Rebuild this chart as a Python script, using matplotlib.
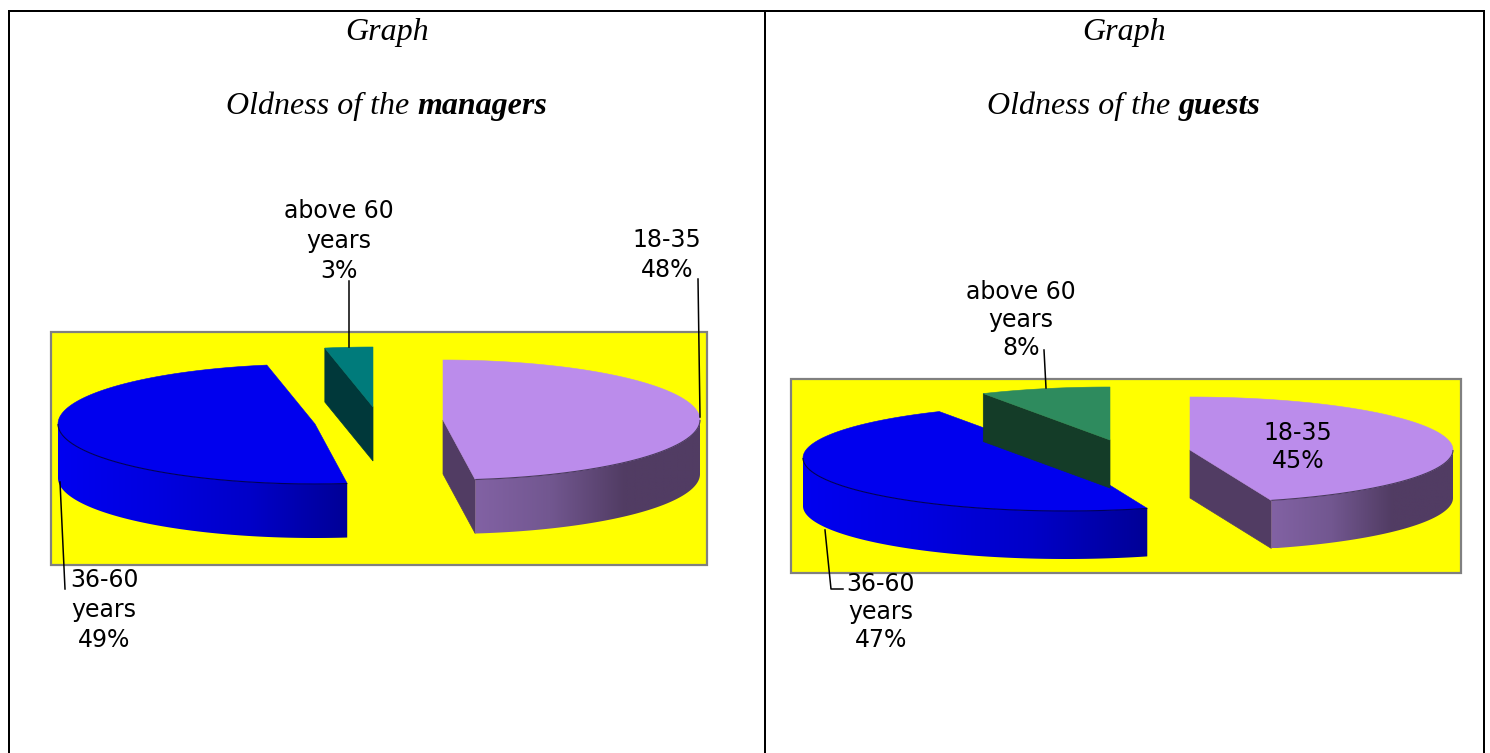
import numpy as np
import matplotlib
matplotlib.use("Agg")
import matplotlib.pyplot as plt
from matplotlib.colors import LinearSegmentedColormap
from matplotlib.patches import Polygon, Rectangle

# Age shares, percent, in drawing order round the pie (clockwise from 12 o'clock)
age_groups_managers = ["18-35", "36-60\nyears", "above 60\nyears"]
shares_managers = [48, 49, 3]
age_groups_guests = ["18-35", "36-60\nyears", "above 60\nyears"]
shares_guests = [45, 47, 8]

W, H = 1490, 753
fig = plt.figure(figsize=(W / 100, H / 100), dpi=100, facecolor="white")
ax = fig.add_axes([0, 0, 1, 1])
ax.set_xlim(0, W)
ax.set_ylim(H, 0)
ax.axis("off")

SERIF = "Liberation Serif"
SANS = "DejaVu Sans"
TITLE_SIZE = 23
PURPLE = dict(top="#BB8CEB", wall="#513C63", rim="#4A3A60", stops=["#8262A4", "#725790", "#513C63", "#513C63"])
BLUE = dict(top="#0000EE", wall="#0000EE", rim="#00005A", stops=["#0000F0", "#0000E0", "#0000C8", "#000096"])
TEAL = dict(top="#007B7B", wall="#00383A", rim="#00383A", stops=["#00383A", "#00383A"])
GREEN = dict(top="#2E8B5E", wall="#143C28", rim="#143C28", stops=["#143C28", "#143C28"])


def rim(cx, cy, a, b, t0, t1, n=160):
    """Points of the elliptical rim between clockwise angles t0 and t1 (degrees from top)."""
    t = np.radians(np.linspace(t0, t1, n))
    return cx + a * np.sin(t), cy - b * np.cos(t)


def gradient_fill(poly, x0, x1, y0, y1, stops, z):
    cmap = LinearSegmentedColormap.from_list("wall", stops)
    grad = np.linspace(0, 1, 256).reshape(1, -1)
    if x0 > x1:
        grad = grad[:, ::-1]
        x0, x1 = x1, x0
    im = ax.imshow(grad, extent=(x0, x1, y1, y0), aspect="auto", cmap=cmap, zorder=z, interpolation="bilinear")
    patch = Polygon(poly, closed=True, transform=ax.transData, fc="none", ec="none")
    ax.add_patch(patch)
    im.set_clip_path(patch)


def slice3d(cx, cy, a, b, depth, t0, t1, style, z):
    """One exploded pie slice with its visible radial and curved walls."""
    for t, visible in ((t0, np.sin(np.radians(t0)) < -1e-6), (t1, np.sin(np.radians(t1)) > 1e-6)):
        if visible:
            ex, ey = rim(cx, cy, a, b, t, t, 1)
            wall = [(cx, cy), (ex[0], ey[0]), (ex[0], ey[0] + depth), (cx, cy + depth)]
            ax.add_patch(Polygon(wall, closed=True, fc=style["wall"], ec=style["wall"], lw=0.5, zorder=z))
    # The curved wall shows only on the near half of the rim
    f0, f1 = max(t0, 90), min(t1, 270)
    if f1 > f0:
        x, y = rim(cx, cy, a, b, f0, f1)
        poly = np.vstack([np.column_stack([x, y]), np.column_stack([x[::-1], y[::-1] + depth])])
        gradient_fill(poly, x[-1], x[0], y.min(), y.max() + depth, style["stops"], z + 0.1)
    x, y = rim(cx, cy, a, b, t0, t1)
    top = np.vstack([[cx, cy], np.column_stack([x, y])])
    ax.add_patch(Polygon(top, closed=True, fc=style["top"], ec=style["top"], lw=0.4, zorder=z + 0.2))
    if f1 > f0:
        fx, fy = rim(cx, cy, a, b, f0, f1)
        ax.plot(fx, fy, color=style["rim"], lw=0.8, zorder=z + 0.3, solid_capstyle="butt")


def pie3d(shares, centers, a, b, depth, styles):
    angles = np.cumsum([0] + list(shares)) * 3.6
    for i in (2, 0, 1):
        cx, cy = centers[i]
        slice3d(cx, cy, a, b, depth, angles[i], angles[i + 1], styles[i], 2 + i)


def label(x, y, txt, spacing):
    ax.text(x, y, txt, ha="center", va="center", family=SANS, fontsize=17, color="black",
            linespacing=spacing, zorder=10)


def title(xc, word):
    ax.text(xc, 32, "Graph", ha="center", va="center", family=SERIF, style="italic",
            fontsize=TITLE_SIZE, color="black")
    pre = ax.text(0, 0, "Oldness of the ", family=SERIF, style="italic", fontsize=TITLE_SIZE)
    post = ax.text(0, 0, word, family=SERIF, style="italic", weight="bold", fontsize=TITLE_SIZE)
    fig.canvas.draw()
    r = fig.canvas.get_renderer()
    w0 = pre.get_window_extent(r).width
    w1 = post.get_window_extent(r).width
    start = xc - (w0 + w1) / 2
    pre.set_position((start, 106))
    pre.set_va("center")
    post.set_position((start + w0, 106))
    post.set_va("center")


# Table frame holding the two panels
frame = dict(color="black", lw=1.44, solid_capstyle="projecting", zorder=12)
ax.plot([9, 9], [11, 753], **frame)
ax.plot([765, 765], [11, 753], **frame)
ax.plot([1484, 1484], [11, 753], **frame)
ax.plot([9, 1484], [11, 11], **frame)

title(387, "managers")
title(1124, "guests")

# Managers panel
ax.add_patch(Rectangle((51, 332), 656, 233, fc="#FFFF00", ec="#808080", lw=1.6, zorder=1))
pie3d(shares_managers, [(443, 420), (315, 424), (373, 407)], 257, 60, 54, [PURPLE, BLUE, TEAL])
ax.plot([349, 349], [281, 347], color="black", lw=1.1, zorder=9)
ax.plot([698, 700], [279, 417], color="black", lw=1.1, zorder=9)
ax.plot([60, 65], [482, 589], color="black", lw=1.1, zorder=9)
label(667, 255, f"{age_groups_managers[0]}\n{shares_managers[0]}%", 1.33)
label(104, 610, f"{age_groups_managers[1]}\n{shares_managers[1]}%", 1.33)
label(339, 241, f"{age_groups_managers[2]}\n{shares_managers[2]}%", 1.31)

# Guests panel
ax.add_patch(Rectangle((791, 379), 670, 194, fc="#FFFF00", ec="#808080", lw=1.6, zorder=1))
pie3d(shares_guests, [(1190, 450), (1066, 458), (1110, 440)], 263, 53, 48, [PURPLE, BLUE, GREEN])
ax.plot([1044, 1046], [350, 388], color="black", lw=1.1, zorder=9)
ax.plot([825, 831, 843], [530, 589, 589], color="black", lw=1.1, zorder=9)
label(1298, 447, f"{age_groups_guests[0]}\n{shares_guests[0]}%", 1.19)
label(881, 612, f"{age_groups_guests[1]}\n{shares_guests[1]}%", 1.19)
label(1021, 320, f"{age_groups_guests[2]}\n{shares_guests[2]}%", 1.22)

ax.set_xlim(0, W)
ax.set_ylim(H, 0)
fig.savefig("out.png", dpi=100)
